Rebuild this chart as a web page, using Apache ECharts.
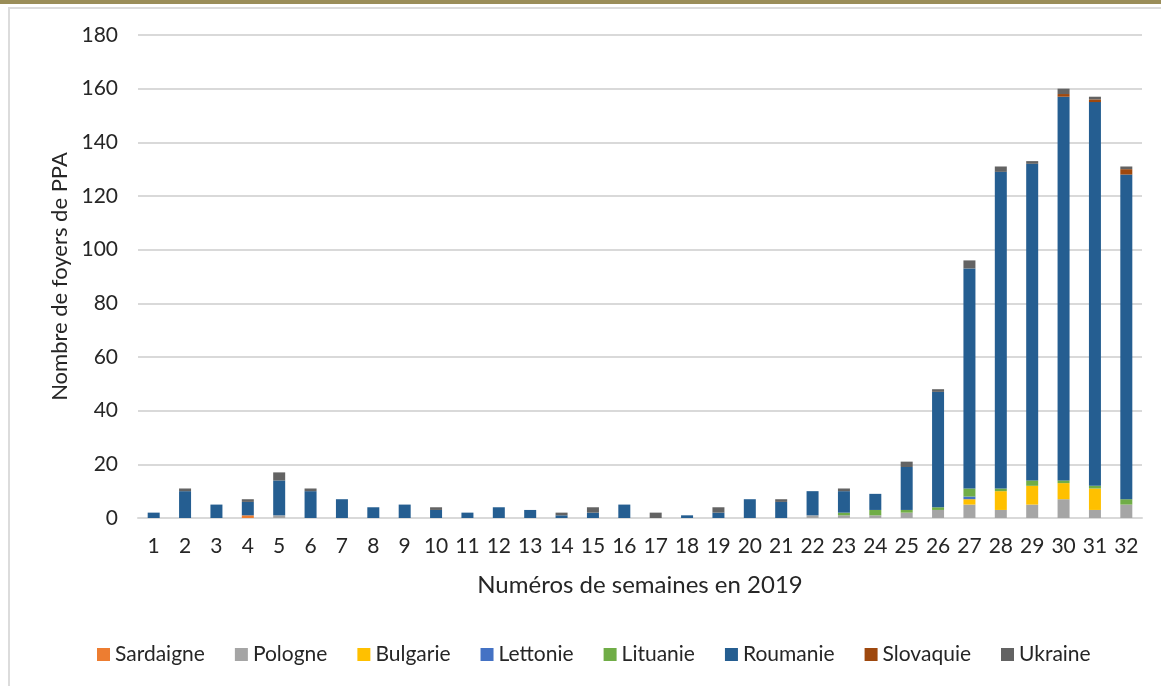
<!DOCTYPE html>
<html>
<head>
<meta charset="utf-8">
<script src="https://cdn.jsdelivr.net/npm/echarts@6/dist/echarts.min.js"></script>
<style>
  html, body { margin: 0; padding: 0; background: #fff; }
  #chart { position: absolute; left: 0; top: 0; width: 1161px; height: 686px; }
  #band { position: absolute; left: 0; top: 0; width: 1161px; height: 4px; background: #9a8d58; }
  #frameTop { position: absolute; left: 8px; top: 7px; width: 1153px; height: 2px; background: #dcdcdc; }
  #frameLeft { position: absolute; left: 8px; top: 7px; width: 2px; height: 679px; background: #dcdcdc; }
</style>
</head>
<body>
<div id="chart"></div>
<div id="band"></div>
<div id="frameTop"></div>
<div id="frameLeft"></div>
<script>
const weeks = ['1','2','3','4','5','6','7','8','9','10','11','12','13','14','15','16',
               '17','18','19','20','21','22','23','24','25','26','27','28','29','30','31','32'];
//                 1  2  3  4  5  6  7  8  9 10 11 12 13 14 15 16 17 18 19 20 21 22 23 24 25 26 27  28  29  30  31  32
const sardaigne = [0, 0, 0, 1, 0, 0, 0, 0, 0, 0, 0, 0, 0, 0, 0, 0, 0, 0, 0, 0, 0, 0, 0, 0, 0, 0, 0,  0,  0,  0,  0,  0];
const pologne   = [0, 0, 0, 0, 1, 0, 0, 0, 0, 0, 0, 0, 0, 0, 0, 0, 0, 0, 0, 0, 0, 1, 1, 1, 2, 3, 5,  3,  5,  7,  3,  5];
const bulgarie  = [0, 0, 0, 0, 0, 0, 0, 0, 0, 0, 0, 0, 0, 0, 0, 0, 0, 0, 0, 0, 0, 0, 0, 0, 0, 0, 2,  7,  7,  6,  8,  0];
const lettonie  = [0, 0, 0, 0, 0, 0, 0, 0, 0, 0, 0, 0, 0, 0, 0, 0, 0, 0, 0, 0, 0, 0, 0, 0, 0, 0, 1,  0,  0,  0,  0,  0];
const lituanie  = [0, 0, 0, 0, 0, 0, 0, 0, 0, 0, 0, 0, 0, 0, 0, 0, 0, 0, 0, 0, 0, 0, 1, 2, 1, 1, 3,  1,  2,  1,  1,  2];
const roumanie  = [2,10, 5, 5,13,10, 7, 4, 5, 3, 2, 4, 3, 1, 2, 5, 0, 1, 2, 7, 6, 9, 8, 6,16,43,82,118,118,143,143,121];
const slovaquie = [0, 0, 0, 0, 0, 0, 0, 0, 0, 0, 0, 0, 0, 0, 0, 0, 0, 0, 0, 0, 0, 0, 0, 0, 0, 0, 0,  0,  0,  1,  1,  2];
const ukraine   = [0, 1, 0, 1, 3, 1, 0, 0, 0, 1, 0, 0, 0, 1, 2, 0, 2, 0, 2, 0, 1, 0, 1, 0, 2, 1, 3,  2,  1,  2,  1,  1];

const seriesDefs = [
  ['Sardaigne', sardaigne, '#ed7d31'],
  ['Pologne',   pologne,   '#a5a5a5'],
  ['Bulgarie',  bulgarie,  '#ffc000'],
  ['Lettonie',  lettonie,  '#4472c4'],
  ['Lituanie',  lituanie,  '#70ad47'],
  ['Roumanie',  roumanie,  '#255e91'],
  ['Slovaquie', slovaquie, '#9e480e'],
  ['Ukraine',   ukraine,   '#636363']
];

const FONT = 'Lato';
const chart = echarts.init(document.getElementById('chart'), null, { renderer: 'canvas' });
chart.setOption({
  animation: false,
  textStyle: { fontFamily: FONT },
  grid: { left: 138, right: 19, top: 35, bottom: 168, containLabel: false },
  legend: {
    top: 639,
    left: 92,
    itemWidth: 13,
    itemHeight: 13,
    itemGap: 30,
    icon: 'rect',
    textStyle: { fontFamily: FONT, fontSize: 21, color: '#262626' },
    data: seriesDefs.map(d => d[0])
  },
  xAxis: {
    type: 'category',
    data: weeks,
    name: 'Numéros de semaines en 2019',
    nameLocation: 'middle',
    nameGap: 55,
    nameTextStyle: { fontFamily: FONT, fontSize: 24, color: '#262626' },
    axisLine: { lineStyle: { color: '#d9d9d9', width: 2 } },
    axisTick: { show: false },
    axisLabel: { interval: 0, fontFamily: FONT, fontSize: 21, color: '#262626', margin: 18 }
  },
  yAxis: {
    type: 'value',
    min: 0,
    max: 180,
    interval: 20,
    name: 'Nombre de foyers de PPA',
    nameLocation: 'middle',
    nameGap: 67,
    nameTextStyle: { fontFamily: FONT, fontSize: 22, color: '#262626' },
    axisLine: { show: false },
    axisTick: { show: false },
    axisLabel: { fontFamily: FONT, fontSize: 21, color: '#262626', margin: 20 },
    splitLine: { lineStyle: { color: '#d9d9d9', width: 2 } }
  },
  series: seriesDefs.map(d => ({
    name: d[0],
    type: 'bar',
    stack: 'total',
    data: d[1],
    barWidth: 12,
    itemStyle: { color: d[2] }
  }))
});
</script>
</body>
</html>
